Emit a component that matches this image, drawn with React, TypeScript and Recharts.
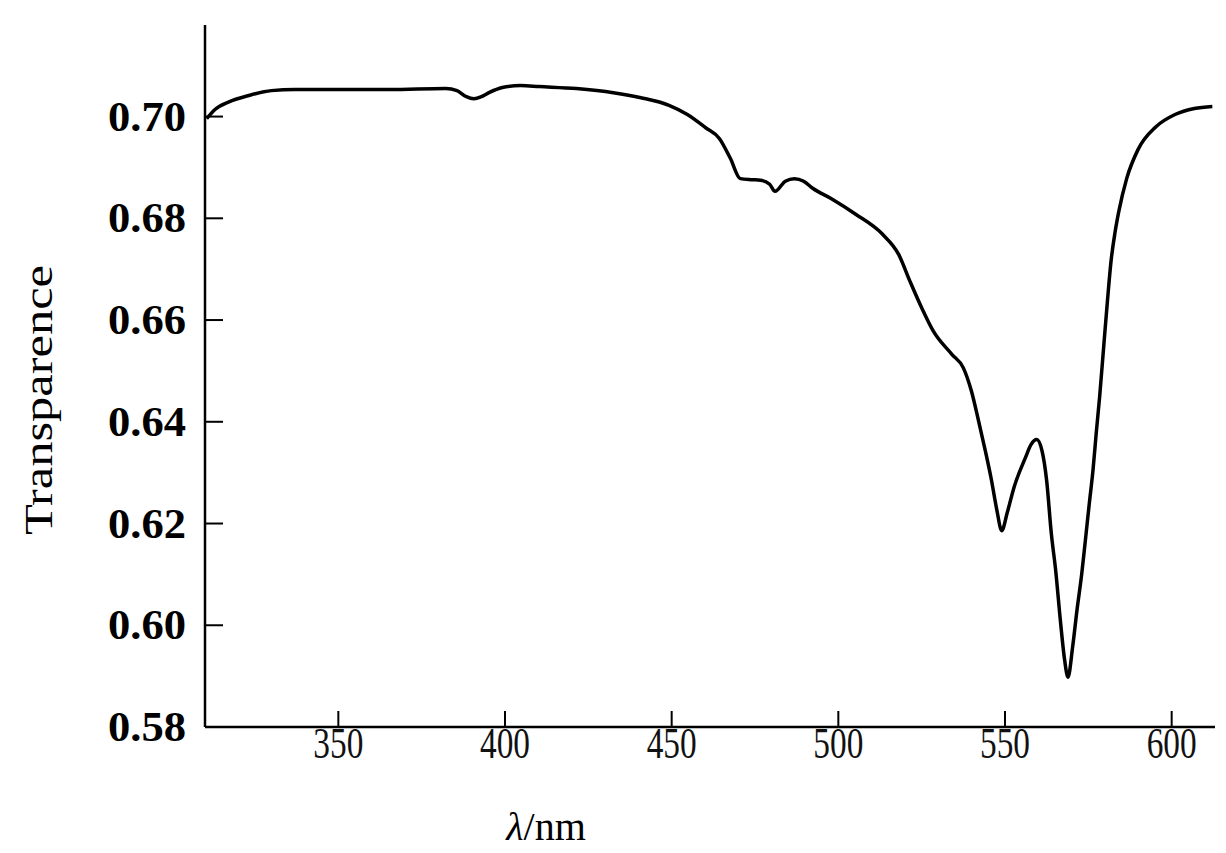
import { LineChart, Line, XAxis, YAxis } from 'recharts';

// wavelength (nm), using the nearest tick labels
const wavelength = [
  310.5, 313.0, 317.2, 322.9, 329.9, 337.0, 351.1, 365.3, 382.2, 385.6,
  388.4, 390.7, 392.9, 395.2, 399.2, 404.7, 410.3, 421.4, 432.5, 440.8,
  449.2, 454.7, 460.2, 464.3, 467.6, 470.6, 473.9, 476.6, 479.4, 481.0,
  484.1, 486.8, 489.6, 492.3, 497.8, 505.2, 513.2, 518.1, 521.5, 525.0,
  528.5, 534.0, 537.5, 539.9, 542.4, 544.1, 545.8, 547.6, 549.0, 550.7,
  552.7, 556.1, 557.8, 559.5, 561.1, 562.5, 563.9, 565.2, 566.6, 567.9,
  568.9, 570.3, 571.6, 573.0, 574.0, 575.3, 576.4, 577.4, 578.4, 579.7,
  580.7, 581.8, 583.0, 584.1, 586.5, 589.9, 595.3, 601.0, 606.8, 612.2,
];

const transparence = [
  0.6996, 0.7014, 0.7029, 0.7041, 0.7051, 0.7053, 0.7053, 0.7053, 0.7055, 0.7051,
  0.7039, 0.7035, 0.7039, 0.7047, 0.7057, 0.7061, 0.7059, 0.7055, 0.7047, 0.7037,
  0.7022, 0.7004, 0.6978, 0.6957, 0.6918, 0.6878, 0.6876, 0.6875, 0.6867, 0.6853,
  0.6873, 0.6878, 0.6873, 0.6859, 0.6839, 0.6808, 0.6769, 0.6729, 0.6676, 0.6624,
  0.6578, 0.6533, 0.6506, 0.6461, 0.6392, 0.6343, 0.6290, 0.6225, 0.6186, 0.6222,
  0.6271, 0.6329, 0.6355, 0.6365, 0.6343, 0.6284, 0.6180, 0.6108, 0.6010, 0.5931,
  0.5898, 0.5958, 0.6030, 0.6100, 0.6160, 0.6240, 0.6305, 0.6380, 0.6450, 0.6555,
  0.6635, 0.6715, 0.6772, 0.6812, 0.6878, 0.6935, 0.6980, 0.7004, 0.7016, 0.7020,
];

const xTicks = [350, 400, 450, 500, 550, 600];
const yTicks = [0.58, 0.6, 0.62, 0.64, 0.66, 0.68, 0.7];

const data = wavelength.map((w, i) => ({ w, t: transparence[i] }));

const FONT = '"Liberation Serif", "DejaVu Serif", serif';

function YTick({ x, y, payload }: any) {
  return (
    <g>
      <line x1={x} x2={x + 18} y1={y} y2={y} stroke="#000" strokeWidth={2} />
      <text
        x={x - 19}
        y={y}
        dy={14}
        textAnchor="end"
        fontFamily={FONT}
        fontSize={42}
        fontWeight={600}
        fill="#000"
        textLength={78}
        lengthAdjust="spacingAndGlyphs"
      >
        {payload.value.toFixed(2)}
      </text>
    </g>
  );
}

function XTick({ x, y, payload }: any) {
  return (
    <g>
      <line x1={x} x2={x} y1={y} y2={y - 16} stroke="#000" strokeWidth={2} />
      <text
        x={x}
        y={y}
        dy={31}
        textAnchor="middle"
        fontFamily={FONT}
        fontSize={44}
        fill="#111"
        textLength={50}
        lengthAdjust="spacingAndGlyphs"
      >
        {payload.value}
      </text>
    </g>
  );
}

export default function App() {
  return (
    <div style={{ position: 'absolute', left: 0, top: 0, background: '#fff' }}>
      <LineChart width={1226} height={853} data={data} margin={{ top: 25, right: 11, left: 0, bottom: 0 }}>
        <XAxis
          dataKey="w"
          type="number"
          domain={[310, 613]}
          ticks={xTicks}
          height={126}
          tickSize={0}
          tickMargin={0}
          tickLine={false}
          axisLine={{ stroke: '#000', strokeWidth: 2.5 }}
          tick={<XTick />}
          label={{
            content: () => (
              <text x={546} y={840} textAnchor="middle" fontFamily={FONT} fontSize={40} fill="#000">
                <tspan fontStyle="italic">λ</tspan>/nm
              </text>
            ),
          }}
        />
        <YAxis
          type="number"
          domain={[0.58, 0.718]}
          ticks={yTicks}
          width={205}
          tickSize={0}
          tickMargin={0}
          tickLine={false}
          axisLine={{ stroke: '#000', strokeWidth: 2.5 }}
          tick={<YTick />}
          label={{
            content: () => (
              <text
                x={52}
                y={400}
                transform="rotate(-90 52 400)"
                textAnchor="middle"
                fontFamily={FONT}
                fontSize={40}
                fill="#000"
                textLength={270}
                lengthAdjust="spacingAndGlyphs"
              >
                Transparence
              </text>
            ),
          }}
        />
        <Line
          type="monotone"
          dataKey="t"
          stroke="#000"
          strokeWidth={3.5}
          dot={false}
          isAnimationActive={false}
        />
      </LineChart>
    </div>
  );
}
